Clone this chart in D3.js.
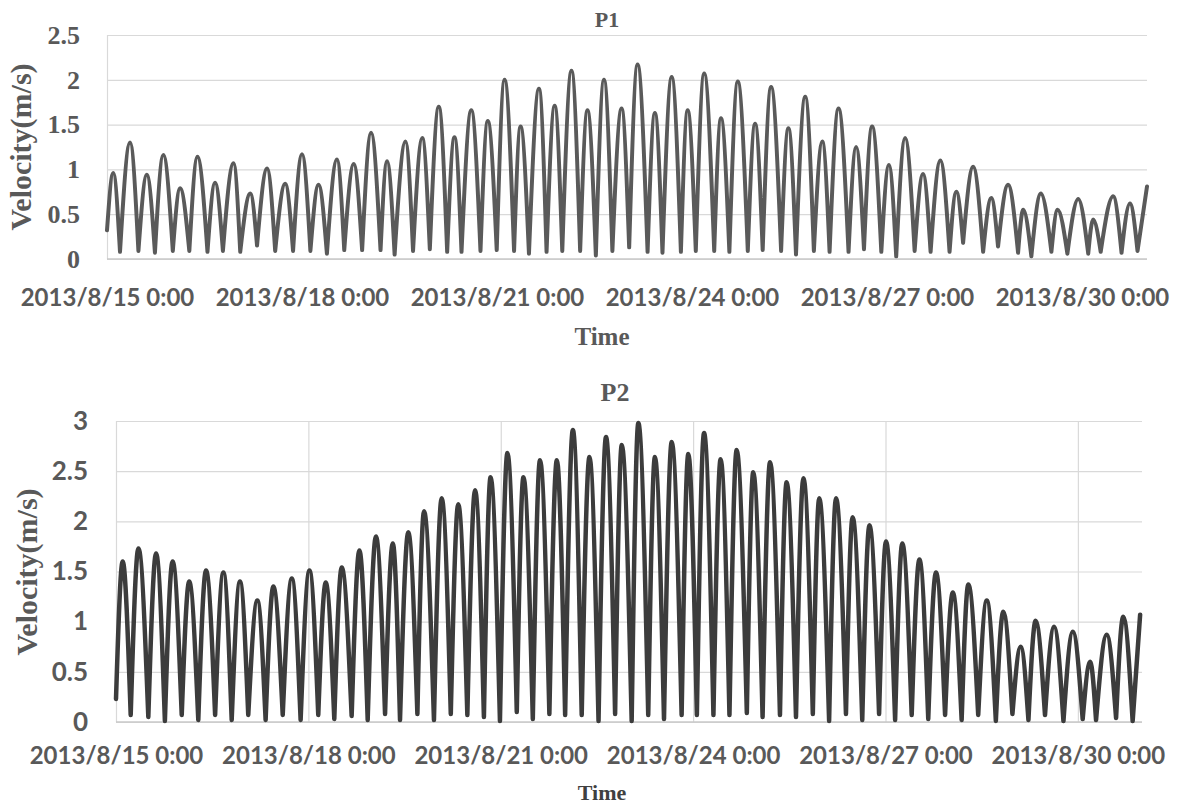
<!DOCTYPE html>
<html>
<head>
<meta charset="utf-8">
<script src="https://cdn.jsdelivr.net/npm/d3@7"></script>
<style>
  body { margin: 0; background: #fff; }
  svg { display: block; }
</style>
</head>
<body>
<div id="chart"></div>
<script>
// Hours since 2013/8/15 0:00 and velocity (m/s):
// start point, then alternating peaks and troughs
const p1Hours = [0, 2.3, 4.8, 8.5, 11.6, 14.7, 17.7, 20.8, 24.3, 27,
    30.4, 33.4, 37.1, 39.9, 42.8, 46.7, 49.2, 52.9, 55.4, 59.1,
    62.1, 65.8, 68.7, 72, 75.1, 78.1, 81.2, 84.9, 87.6, 91.1,
    94.2, 97.5, 101, 103.4, 106.2, 110.2, 113, 116.4, 119.2, 122.5,
    125.6, 128.3, 130.9, 134.5, 137.9, 140.6, 143.9, 146.8, 150.3, 152.7,
    155.8, 159.5, 162.3, 165.3, 168.1, 171.5, 174.7, 177.4, 180.5, 183.5,
    186.6, 190, 192.8, 195.9, 199.6, 202.3, 205.1, 208.5, 211.9, 214.4,
    217.4, 220.5, 224.2, 226.7, 229.8, 232.9, 236.6, 239.3, 242.1, 245.2,
    248.9, 251.6, 254.4, 257.8, 261, 264.1, 266.8, 270.1, 273.8, 276.6,
    279.5, 282.5, 285.9, 288.7, 291.4, 294.7, 298.2, 301.3, 304.1, 307.7,
    311.1, 313.6, 316.1, 319.8, 323.5, 326.5, 329, 332.7, 336.4, 338.3,
    341.3, 344.8, 348.7, 351, 354.6, 358.6, 362.3, 364.1, 366.9, 371.5,
    374.6, 377.7, 380.5, 384];
const p1Velocity = [0.32, 0.96, 0.08, 1.30, 0.09, 0.94, 0.07, 1.16, 0.09, 0.79,
    0.09, 1.14, 0.08, 0.85, 0.09, 1.07, 0.08, 0.73, 0.15, 1.01,
    0.09, 0.84, 0.09, 1.17, 0.09, 0.83, 0.06, 1.11, 0.10, 1.06,
    0.10, 1.41, 0.10, 1.09, 0.05, 1.31, 0.09, 1.35, 0.11, 1.70,
    0.08, 1.36, 0.08, 1.66, 0.09, 1.54, 0.10, 2.00, 0.09, 1.48,
    0.06, 1.90, 0.08, 1.71, 0.09, 2.10, 0.09, 1.66, 0.04, 2.00,
    0.09, 1.68, 0.13, 2.17, 0.08, 1.63, 0.07, 2.03, 0.08, 1.66,
    0.09, 2.07, 0.09, 1.57, 0.08, 1.98, 0.09, 1.51, 0.10, 1.92,
    0.09, 1.46, 0.05, 1.81, 0.09, 1.31, 0.08, 1.68, 0.08, 1.25,
    0.11, 1.48, 0.08, 1.05, 0.03, 1.35, 0.09, 0.95, 0.08, 1.10,
    0.08, 0.75, 0.18, 1.03, 0.08, 0.68, 0.14, 0.83, 0.07, 0.55,
    0.03, 0.73, 0.08, 0.55, 0.06, 0.67, 0.06, 0.44, 0.08, 0.70,
    0.07, 0.62, 0.09, 0.81];

const p2Hours = [0, 2.5, 5.5, 8.4, 12.1, 15, 18.3, 21.2, 24.6, 27.4,
    30.8, 33.7, 37.1, 40.2, 43.3, 46.4, 49.5, 52.9, 56, 58.9,
    62.4, 65.8, 69.1, 72.4, 75.7, 78.5, 81.7, 84.5, 88.2, 91.1,
    94.2, 97.3, 100.7, 103.6, 106.3, 109.4, 112.8, 115.3, 119, 121.9,
    125.3, 128.1, 131.5, 134.4, 137.7, 140.2, 143.7, 146.5, 150, 152.5,
    156, 158.7, 162.2, 165, 168.1, 171, 174.3, 177.2, 180.6, 183.4,
    186.8, 189.3, 193, 195.5, 199.2, 201.7, 205.1, 208, 211.7, 214.2,
    217.4, 220.1, 223.6, 226.3, 229.6, 232.3, 236.1, 238.5, 242, 244.8,
    248.5, 251, 254.5, 257.3, 260.8, 263.2, 266.9, 269.5, 273.2, 275.7,
    279.3, 282, 285.6, 288.2, 291.6, 294.3, 297.8, 300.7, 304, 306.9,
    310.3, 313.2, 316.5, 319, 322.7, 325.9, 329.3, 332.1, 335.5, 338.6,
    341.5, 344.2, 347.7, 351.1, 354.6, 358.1, 361.8, 364.6, 366.8, 370.8,
    374.3, 377, 380.5, 383.3];
const p2Velocity = [0.23, 1.60, 0.07, 1.73, 0.05, 1.68, 0.01, 1.60, 0.07, 1.40,
    0.02, 1.51, 0.07, 1.49, 0.02, 1.40, 0.07, 1.21, 0.02, 1.35,
    0.07, 1.43, 0.02, 1.51, 0.07, 1.39, 0.03, 1.54, 0.06, 1.71,
    0.02, 1.85, 0.08, 1.78, 0.02, 1.89, 0.08, 2.10, 0.02, 2.23,
    0.08, 2.17, 0.07, 2.31, 0.05, 2.44, 0.01, 2.68, 0.10, 2.44,
    0.03, 2.61, 0.08, 2.61, 0.07, 2.91, 0.07, 2.64, 0.01, 2.84,
    0.08, 2.76, 0.01, 2.98, 0.07, 2.64, 0.03, 2.79, 0.07, 2.67,
    0.07, 2.88, 0.07, 2.62, 0.07, 2.71, 0.09, 2.49, 0.05, 2.59,
    0.07, 2.39, 0.05, 2.43, 0.08, 2.23, 0.01, 2.23, 0.08, 2.04,
    0.02, 1.96, 0.08, 1.80, 0.02, 1.78, 0.07, 1.62, 0.03, 1.49,
    0.07, 1.29, 0.02, 1.37, 0.07, 1.21, 0.01, 1.10, 0.08, 0.75,
    0.02, 1.01, 0.07, 0.95, 0.01, 0.90, 0.03, 0.60, 0.02, 0.87,
    0.04, 1.05, 0.01, 1.07];

const tickDays = [0, 3, 6, 9, 12, 15];
const tickLabels = ["2013/8/15 0:00", "2013/8/18 0:00", "2013/8/21 0:00",
    "2013/8/24 0:00", "2013/8/27 0:00", "2013/8/30 0:00"];
const p1YTicks = [0, 0.5, 1, 1.5, 2, 2.5];
const p2YTicks = [0, 0.5, 1, 1.5, 2, 2.5, 3];

const width = 1179, height = 808;
const serif = "'Liberation Serif', 'Times New Roman', serif";
const sans = "Lato, 'Open Sans', sans-serif";

const svg = d3.select("#chart")
    .append("svg")
    .attr("width", width)
    .attr("height", height)
    .attr("xmlns", "http://www.w3.org/2000/svg");

svg.append("rect").attr("width", width).attr("height", height).attr("fill", "#fff");

// split the series at each trough so peaks are round and troughs stay sharp
function splitAtTroughs(points) {
    const out = [];
    let cur = [points[0]];
    for (let i = 1; i < points.length; i++) {
        cur.push(points[i]);
        const last = i === points.length - 1;
        if (!last && points[i][1] < points[i - 1][1] && points[i][1] < points[i + 1][1]) {
            out.push(cur);
            cur = [points[i]];
        }
    }
    if (cur.length > 1) out.push(cur);
    return out;
}

function drawPanel(p) {
    const g = svg.append("g");

    const x = d3.scaleLinear().domain([0, 384]).range([p.left, p.right]);
    const y = d3.scaleLinear().domain([0, d3.max(p.yTicks)]).range([p.bottom, p.top]);

    // horizontal gridlines
    const yGrid = g.append("g")
        .attr("transform", `translate(${p.left},0)`)
        .call(d3.axisLeft(y).tickValues(p.yTicks).tickSize(-(p.right - p.left)).tickFormat(""));
    yGrid.select(".domain").remove();
    yGrid.selectAll(".tick line").attr("stroke", "#d9d9d9").attr("stroke-width", 1.2);

    // vertical gridlines (P2 only) or just the left edge
    const xGrid = g.append("g")
        .attr("transform", `translate(0,${p.bottom})`)
        .call(d3.axisBottom(x)
            .tickValues(p.vGrid ? tickDays.map(d => d * 24) : [0])
            .tickSize(-(p.bottom - p.top)).tickFormat(""));
    xGrid.select(".domain").remove();
    xGrid.selectAll(".tick line").attr("stroke", "#d9d9d9").attr("stroke-width", 1.2);

    // base line
    g.append("line")
        .attr("x1", p.left).attr("x2", p.right)
        .attr("y1", y(0)).attr("y2", y(0))
        .attr("stroke", "#c8c8c8").attr("stroke-width", 1.3);

    // y tick labels
    const yAxis = g.append("g")
        .attr("transform", `translate(${p.left},0)`)
        .call(d3.axisLeft(y).tickValues(p.yTicks).tickSize(0).tickPadding(p.yPad)
            .tickFormat(d => String(d)));
    yAxis.select(".domain").remove();
    yAxis.selectAll("text")
        .style("font-family", p.yFont)
        .style("font-size", p.yFontSize + "px")
        .style("font-weight", "bold")
        .attr("fill", "#595959");

    // x tick labels
    const xAxis = g.append("g")
        .attr("transform", `translate(0,${p.bottom})`)
        .call(d3.axisBottom(x).tickValues(tickDays.map(d => d * 24)).tickSize(0)
            .tickPadding(p.xPad).tickFormat((d, i) => tickLabels[i]));
    xAxis.select(".domain").remove();
    xAxis.selectAll("text")
        .style("font-family", sans)
        .style("font-size", "24px")
        .style("font-weight", "bold")
        .attr("fill", "#595959");

    // the series
    const points = p.hours.map((h, i) => [h, p.values[i]]);
    const line = d3.line()
        .x(d => x(d[0]))
        .y(d => y(d[1]))
        .curve(d3.curveMonotoneX);
    g.append("path")
        .attr("d", splitAtTroughs(points).map(seg => line(seg)).join(""))
        .attr("fill", "none")
        .attr("stroke", p.lineColor)
        .attr("stroke-width", p.lineWidth)
        .attr("stroke-linejoin", "round")
        .attr("stroke-linecap", "round");

    // titles
    g.append("text")
        .attr("x", p.titleX).attr("y", p.titleY)
        .attr("text-anchor", "middle")
        .style("font-family", serif).style("font-weight", "bold")
        .style("font-size", p.titleSize + "px")
        .attr("fill", "#595959")
        .text(p.title);

    g.append("text")
        .attr("transform", `translate(${p.yTitleX},${p.yTitleY}) rotate(-90)`)
        .attr("text-anchor", "middle")
        .style("font-family", serif).style("font-weight", "bold")
        .style("font-size", "30px")
        .attr("fill", "#595959")
        .text("Velocity(m/s)");

    g.append("text")
        .attr("x", p.timeX).attr("y", p.timeY)
        .attr("text-anchor", "middle")
        .style("font-family", serif).style("font-weight", "bold")
        .style("font-size", p.timeSize + "px")
        .attr("fill", p.timeColor)
        .text("Time");
}

drawPanel({
    title: "P1", titleX: 607, titleY: 27, titleSize: 22,
    hours: p1Hours, values: p1Velocity, yTicks: p1YTicks,
    left: 107, right: 1147, top: 35, bottom: 259,
    vGrid: false, yFont: serif, yFontSize: 26, yPad: 27, xPad: 30,
    lineColor: "#5a5a5a", lineWidth: 4,
    yTitleX: 31, yTitleY: 147,
    timeX: 602, timeY: 345, timeSize: 25, timeColor: "#595959"
});

drawPanel({
    title: "P2", titleX: 615, titleY: 401, titleSize: 26,
    hours: p2Hours, values: p2Velocity, yTicks: p2YTicks,
    left: 116, right: 1142, top: 421, bottom: 722,
    vGrid: true, yFont: sans, yFontSize: 26, yPad: 28, xPad: 25,
    lineColor: "#3c3c3c", lineWidth: 4.5,
    yTitleX: 37, yTitleY: 572,
    timeX: 602, timeY: 800, timeSize: 22, timeColor: "#404040"
});
</script>
</body>
</html>
